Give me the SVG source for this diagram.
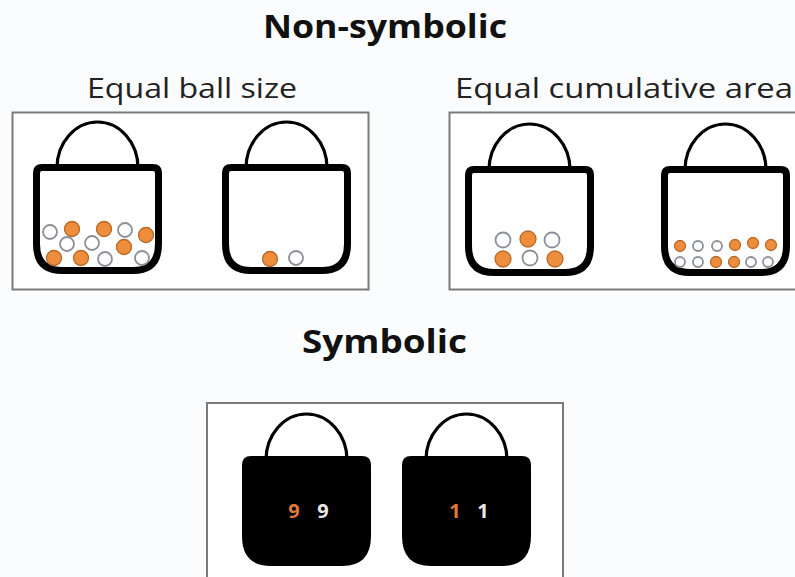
<svg xmlns="http://www.w3.org/2000/svg" width="795" height="577" viewBox="0 0 795 577">
  <style>
    .title { font-family: "Open Sans", Lato, sans-serif; font-weight: bold; font-size: 33px; fill: #111; }
    .sub { font-family: "Open Sans", Lato, sans-serif; font-size: 27px; fill: #222; }
    .panel { fill: #ffffff; stroke: #7a7a7a; stroke-width: 2; }
    .bag { fill: #ffffff; stroke: #000; stroke-width: 7; stroke-linejoin: round; }
    .bag.solid { fill: #000; }
    .handle { fill: none; stroke: #000; stroke-width: 3.2; }
    .or { fill: #ee8d3c; stroke: #b8692a; stroke-width: 1.3; }
    .wh { fill: #ffffff; stroke: #8a8f98; stroke-width: 1.8; }
    .num { font-family: "Open Sans", "DejaVu Sans", sans-serif; font-weight: bold; font-size: 20px; text-anchor: middle; }
  </style>
  <defs>
    <!-- basket body: small top corners, wide rounded bottom corners -->
    <path id="body" d="M3.5,9 Q3.5,3.5 9,3.5 H120 Q125.5,3.5 125.5,9 V80 Q125.5,106.5 100,106.5 H29 Q3.5,106.5 3.5,80 Z"/>
    <path id="arch" d="M24,4 A40.5,46 0 0 1 105,4"/>
  </defs>

  <rect width="795" height="577" fill="#fbfcfd"/>

  <text class="title" x="263" y="38" textLength="244" lengthAdjust="spacingAndGlyphs">Non-symbolic</text>
  <text class="sub" x="87" y="98" textLength="210" lengthAdjust="spacingAndGlyphs">Equal ball size</text>
  <text class="sub" x="455" y="98" textLength="338" lengthAdjust="spacingAndGlyphs">Equal cumulative area</text>
  <text class="title" x="302" y="353" textLength="165" lengthAdjust="spacingAndGlyphs">Symbolic</text>

  <rect class="panel" x="12.5" y="112.5" width="356" height="177"/>
  <rect class="panel" x="449.5" y="112.5" width="360" height="177"/>
  <rect class="panel" x="207" y="403" width="356" height="190"/>

  <!-- equal ball size, many -->
  <g id="bag-many" transform="translate(33,164)">
    <use href="#arch" class="handle"/>
    <use href="#body" class="bag"/>
  </g>
  <g id="balls-many">
    <circle class="wh" cx="50" cy="232" r="7"/>
    <circle class="or" cx="72" cy="229" r="7.5"/>
    <circle class="or" cx="104" cy="229" r="7.5"/>
    <circle class="wh" cx="125" cy="230" r="7"/>
    <circle class="or" cx="146" cy="235" r="7.5"/>
    <circle class="wh" cx="67" cy="244" r="7"/>
    <circle class="wh" cx="92" cy="243" r="7"/>
    <circle class="or" cx="124" cy="247" r="7.5"/>
    <circle class="or" cx="54" cy="258" r="7.5"/>
    <circle class="or" cx="81" cy="258" r="7.5"/>
    <circle class="wh" cx="105" cy="259" r="7"/>
    <circle class="wh" cx="142" cy="258" r="7"/>
  </g>

  <!-- equal ball size, few -->
  <g id="bag-few" transform="translate(222,164)">
    <use href="#arch" class="handle"/>
    <use href="#body" class="bag"/>
  </g>
  <g id="balls-few">
    <circle class="or" cx="270" cy="259" r="7.5"/>
    <circle class="wh" cx="296" cy="258" r="7"/>
  </g>

  <!-- equal cumulative area, large balls -->
  <g id="bag-large" transform="translate(465,166)">
    <use href="#arch" class="handle"/>
    <use href="#body" class="bag"/>
  </g>
  <g id="balls-large">
    <circle class="wh" cx="503" cy="240" r="7.5"/>
    <circle class="or" cx="528" cy="239" r="8"/>
    <circle class="wh" cx="552" cy="240" r="7.5"/>
    <circle class="or" cx="503" cy="259" r="8"/>
    <circle class="wh" cx="530" cy="258" r="7.5"/>
    <circle class="or" cx="555" cy="259" r="8"/>
  </g>

  <!-- equal cumulative area, small balls -->
  <g id="bag-small" transform="translate(661,166)">
    <use href="#arch" class="handle"/>
    <use href="#body" class="bag"/>
  </g>
  <g id="balls-small">
    <circle class="or" cx="680" cy="246" r="5.5"/>
    <circle class="wh" cx="698" cy="246" r="5"/>
    <circle class="wh" cx="717" cy="246" r="5"/>
    <circle class="or" cx="735" cy="245" r="5.5"/>
    <circle class="or" cx="753" cy="243" r="5.5"/>
    <circle class="or" cx="771" cy="245" r="5.5"/>
    <circle class="wh" cx="680" cy="262" r="5"/>
    <circle class="wh" cx="698" cy="262" r="5"/>
    <circle class="or" cx="716" cy="262" r="5.5"/>
    <circle class="or" cx="734" cy="262" r="5.5"/>
    <circle class="wh" cx="751" cy="262" r="5"/>
    <circle class="wh" cx="768" cy="262" r="5"/>
  </g>

  <!-- symbolic bags -->
  <g id="bag-nine" transform="translate(242,456)">
    <use href="#arch" class="handle"/>
    <use href="#body" class="bag solid"/>
    <text class="num" x="52" y="62" fill="#e0773a">9</text>
    <text class="num" x="81" y="62" fill="#e8e8e8">9</text>
  </g>
  <g id="bag-one" transform="translate(402,456)">
    <use href="#arch" class="handle"/>
    <use href="#body" class="bag solid"/>
    <text class="num" x="53" y="62" fill="#e0773a">1</text>
    <text class="num" x="81" y="62" fill="#e8e8e8">1</text>
  </g>
</svg>
